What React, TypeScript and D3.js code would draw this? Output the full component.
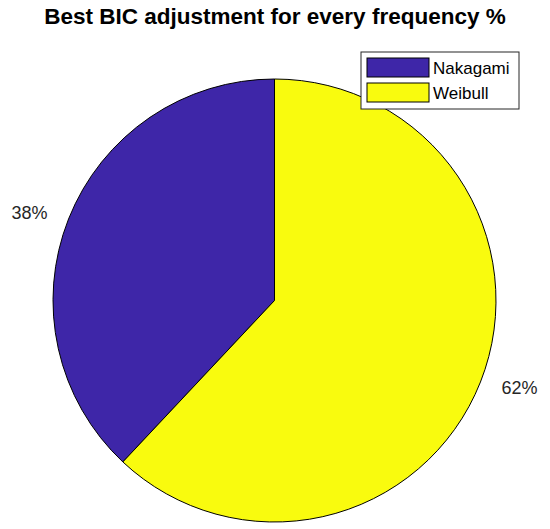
import { useEffect, useRef } from 'react';
import * as d3 from 'd3';

const categories = ['Nakagami', 'Weibull'];
const shares = [38, 62];
const colors = ['#3e26a8', '#f9fb0e'];
const title = 'Best BIC adjustment for every frequency %';

export default function App() {
  const svgRef = useRef<SVGSVGElement>(null);

  useEffect(() => {
    if (!svgRef.current) return;
    const width = 550;
    const height = 529;

    const svg = d3.select(svgRef.current);
    svg.selectAll('*').remove();
    svg.attr('width', width).attr('height', height)
      .style('font-family', '"Liberation Sans", Arial, sans-serif');

    svg.append('rect').attr('width', width).attr('height', height).attr('fill', '#fff');

    const cx = 274.5;
    const cy = 300.5;
    const radius = 221.5;

    // MATLAB draws counter-clockwise from 12 o'clock: first slice on the left
    const total = d3.sum(shares);
    const angles: { start: number; end: number }[] = [];
    let acc = 0;
    shares.forEach((v) => {
      const a0 = -2 * Math.PI * acc / total;
      acc += v;
      const a1 = -2 * Math.PI * acc / total;
      const wrap = angles.length ? 2 * Math.PI : 0;
      angles.push({ start: a1 + wrap, end: a0 + wrap });
    });

    const arc = d3.arc<any>().innerRadius(0).outerRadius(radius);
    const labelArc = d3.arc<any>().innerRadius(radius * 1.19).outerRadius(radius * 1.19);

    const g = svg.append('g').attr('transform', `translate(${cx},${cy})`);

    categories.forEach((c, i) => {
      const d = { startAngle: angles[i].start, endAngle: angles[i].end };
      g.append('path')
        .attr('d', arc(d))
        .attr('fill', colors[i])
        .attr('stroke', '#000')
        .attr('stroke-width', 1);

      const [lx, ly] = labelArc.centroid(d);
      g.append('text')
        .attr('x', lx)
        .attr('y', ly * 0.9)
        .attr('dy', '0.35em')
        .attr('text-anchor', 'middle')
        .attr('font-size', '18px')
        .attr('fill', '#262626')
        .text(`${shares[i]}%`);
    });

    // Title
    svg.append('text')
      .attr('x', 275)
      .attr('y', 24)
      .attr('text-anchor', 'middle')
      .attr('font-size', '22.5px')
      .attr('font-weight', 'bold')
      .attr('fill', '#000')
      .text(title);

    // Legend
    const lgX = 361;
    const lgY = 52;
    const legend = svg.append('g').attr('transform', `translate(${lgX},${lgY})`);
    legend.append('rect')
      .attr('width', 158)
      .attr('height', 57)
      .attr('fill', '#fff')
      .attr('stroke', '#262626')
      .attr('stroke-width', 1);

    categories.forEach((c, i) => {
      const y = 6 + i * 25;
      legend.append('rect')
        .attr('x', 6)
        .attr('y', y)
        .attr('width', 62)
        .attr('height', 19)
        .attr('fill', colors[i])
        .attr('stroke', '#000')
        .attr('stroke-width', 1);
      legend.append('text')
        .attr('x', 72)
        .attr('y', y + 10)
        .attr('dy', '0.35em')
        .attr('font-size', '17px')
        .attr('fill', '#000')
        .text(c);
    });
  }, []);

  return <svg ref={svgRef} style={{ display: 'block', position: 'absolute', left: 0, top: 0 }}></svg>;
}
